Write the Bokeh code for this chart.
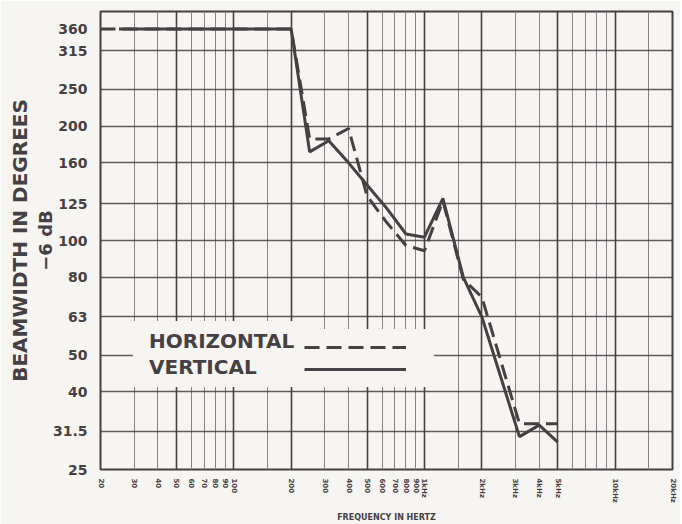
import math
from bokeh.plotting import figure
from bokeh.models import FixedTicker, Grid, LogAxis, Legend, LegendItem
from bokeh.embed import file_html
from bokeh.resources import INLINE

# ---- data ----
freq_horizontal = [20, 200, 250, 315, 400, 500, 630, 800, 1000, 1250, 1600, 2000, 3150, 4000, 5000]
bw_horizontal = [360, 360, 185, 185, 197, 131, 112, 97, 94, 127, 79, 71, 33, 33, 33]

freq_vertical = [25, 200, 250, 315, 400, 500, 630, 800, 1000, 1250, 1600, 2000, 3150, 4000, 5000]
bw_vertical = [360, 360, 171, 183, 160, 140, 122, 104, 102, 129, 80, 63, 30.5, 32.7, 29.5]

y_ticks = [25, 31.5, 40, 50, 63, 80, 100, 125, 160, 200, 250, 315, 360]
y_tick_labels = ["25", "31.5", "40", "50", "63", "80", "100", "125", "160", "200", "250", "315", "360"]

x_ticks = [20, 30, 40, 50, 60, 70, 80, 90, 100, 200, 300, 400, 500, 600, 700, 800, 900,
           1000, 2000, 3000, 4000, 5000, 10000, 20000]
x_tick_labels = ["20", "30", "40", "50", "60", "70", "80", "90", "100", "200", "300", "400",
                 "500", "600", "700", "800", "900", "1kHz", "2kHz", "3kHz", "4kHz", "5kHz",
                 "10kHz", "20kHz"]

grid_x_thin = [30, 40, 60, 70, 80, 90, 150, 300, 400, 600, 700, 800, 900, 1500,
               3000, 4000, 6000, 7000, 8000, 9000, 15000]
grid_x_thick = [50, 100, 200, 500, 1000, 2000, 5000, 10000]
grid_y = [31.5, 40, 50, 63, 80, 100, 125, 160, 200, 250, 315]

series_names = ["HORIZONTAL", "VERTICAL"]

# ---- styling ----
BG = "#f6f5f1"
INK = "#463f43"
GRID = "#8a8087"
FONT = "DejaVu Sans"

p = figure(width=680, height=524, x_axis_type="log", y_axis_type="log",
           x_range=(20, 20000), y_range=(25, 400),
           output_backend="svg", toolbar_location=None,
           min_border_left=100, min_border_right=8, min_border_top=11, min_border_bottom=54,
           background_fill_color=BG, border_fill_color=BG,
           outline_line_color=INK, outline_line_width=2)

p.xgrid.visible = False
p.ygrid.visible = False

p.add_layout(Grid(dimension=0, ticker=FixedTicker(ticks=grid_x_thin),
                  grid_line_color=GRID, grid_line_width=1))
p.add_layout(Grid(dimension=0, ticker=FixedTicker(ticks=grid_x_thick),
                  grid_line_color=INK, grid_line_width=1.6))
p.add_layout(Grid(dimension=1, ticker=FixedTicker(ticks=grid_y),
                  grid_line_color=INK, grid_line_width=1.3, grid_line_alpha=0.85))

# x axis
xa = p.xaxis[0]
xa.ticker = FixedTicker(ticks=x_ticks)
xa.major_label_overrides = dict(zip(x_ticks, x_tick_labels))
xa.major_label_orientation = -math.pi / 2
xa.major_label_text_font = FONT
xa.major_label_text_font_style = "bold"
xa.major_label_text_font_size = "7px"
xa.major_label_text_color = INK
xa.major_label_standoff = 3
xa.major_tick_line_color = None
xa.minor_tick_line_color = None
xa.axis_line_color = None
xa.axis_label = "FREQUENCY IN HERTZ"
xa.axis_label_text_font = FONT
xa.axis_label_text_font_style = "bold"
xa.axis_label_text_font_size = "8px"
xa.axis_label_text_color = INK
xa.axis_label_standoff = 7

# y axis
ya = p.yaxis[0]
ya.ticker = FixedTicker(ticks=y_ticks)
ya.major_label_overrides = dict(zip(y_ticks, y_tick_labels))
ya.major_label_text_font = FONT
ya.major_label_text_font_style = "bold"
ya.major_label_text_font_size = "14px"
ya.major_label_text_color = INK
ya.major_label_standoff = 7
ya.major_tick_line_color = None
ya.minor_tick_line_color = None
ya.axis_line_color = None
ya.axis_label = "\u22126 dB"
ya.axis_label_text_font = FONT
ya.axis_label_text_font_style = "bold"
ya.axis_label_text_font_size = "18px"
ya.axis_label_text_color = INK
ya.axis_label_standoff = -6

ya2 = LogAxis(ticker=FixedTicker(ticks=[]), axis_label="BEAMWIDTH IN DEGREES",
              axis_line_color=None, major_tick_line_color=None, minor_tick_line_color=None,
              major_label_text_font_size="0px", major_label_standoff=0,
              axis_label_standoff=0, axis_label_text_font=FONT,
              axis_label_text_font_style="bold", axis_label_text_font_size="20px",
              axis_label_text_color=INK)
p.add_layout(ya2, "left")

# data lines
r_h = p.line(freq_horizontal, bw_horizontal, line_color=INK, line_width=3, line_dash="15 7")
r_v = p.line(freq_vertical, bw_vertical, line_color=INK, line_width=3)

common = dict(glyph_height=20, label_height=20, spacing=2, padding=8,
              label_text_font=FONT, label_text_font_style="bold",
              label_text_font_size="20px", label_text_color=INK,
              background_fill_color=BG, background_fill_alpha=1.0,
              border_line_alpha=0.0, margin=0)

leg_text = Legend(items=[LegendItem(label=series_names[0], renderers=[r_h]),
                         LegendItem(label=series_names[1], renderers=[r_v])],
                  location=(33, 82), glyph_width=0, label_standoff=8, **common)
leg_lines = Legend(items=[LegendItem(label=" ", renderers=[r_h]),
                          LegendItem(label=" ", renderers=[r_v])],
                   location=(196, 82), glyph_width=102, label_standoff=0, **common)
p.add_layout(leg_text)
p.add_layout(leg_lines)

open("out.html", "w").write(file_html(p, INLINE))
